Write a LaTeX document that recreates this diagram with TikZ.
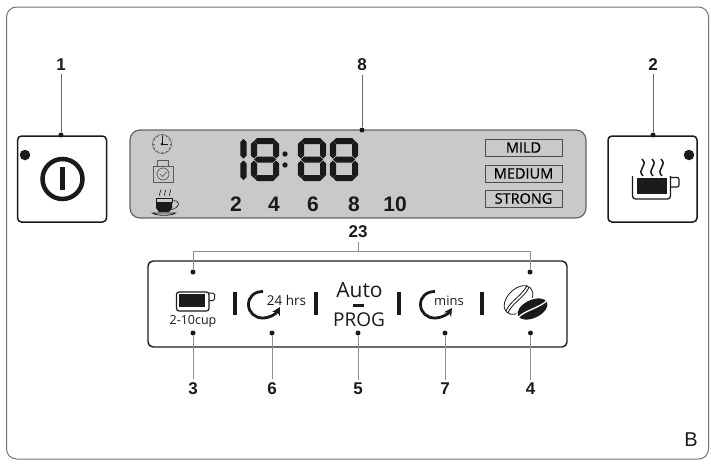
\documentclass[tikz,border=0pt]{standalone}
\usepackage{fontspec}
\setmainfont{Liberation Sans}
\newfontfamily\panelfont{Open Sans}
\newfontfamily\modefont[FakeBold=0.6]{Open Sans}
\usetikzlibrary{arrows.meta}
\definecolor{lcdgray}{HTML}{C9C9C9}
\definecolor{leadgray}{HTML}{8F8F8F}
\definecolor{inkblack}{HTML}{1A1A1A}
\tikzset{
  calllabel/.style={font=\bfseries\fontsize{17}{20}\selectfont, text=inkblack},
  tipdot/.style={circle, fill=inkblack, inner sep=0pt, minimum size=5pt},
  leadline/.style={leadgray, line width=1pt},
  buttonbox/.style={draw=inkblack, line width=1.5pt, rounded corners=4pt, fill=white, minimum width=89pt, minimum height=86pt},
  ledspot/.style={circle, fill=inkblack, inner sep=0pt, minimum size=10.5pt},
  modebox/.style={draw=black!70, line width=0.7pt, fill=lcdgray, minimum width=77pt, minimum height=17pt, inner sep=0pt, font=\modefont\fontsize{14.5}{16}\selectfont},
  cupnum/.style={font=\bfseries\fontsize{21}{24}\selectfont, text=inkblack},
  divbar/.style={fill=inkblack, minimum width=4pt, minimum height=23pt, inner sep=0pt},
  panelword/.style={font=\panelfont\fontsize{#1}{#1}\selectfont, text=inkblack, inner sep=0pt},
  timerarrow/.style={inkblack, line width=2.8pt, -{Stealth[length=8pt,width=8.5pt]}},
}
% one lcd digit
\newcommand{\hseg}[3]{\fill[inkblack] (#1,#3) -- (#1+3,#3-3) -- (#2-3,#3-3) -- (#2,#3) -- (#2-3,#3+3) -- (#1+3,#3+3) -- cycle;}
\newcommand{\vseg}[3]{\fill[inkblack] (#1,#2) -- (#1+3.1,#2+3) -- (#1+3.1,#3-3) -- (#1,#3) -- (#1-3.1,#3-3) -- (#1-3.1,#2+3) -- cycle;}
\newcommand{\eightdigit}[1]{%
  \hseg{#1+3}{#1+25}{141}
  \hseg{#1+3}{#1+25}{159.5}
  \hseg{#1+3}{#1+25}{178}
  \vseg{#1+2.9}{141}{158.5}
  \vseg{#1+2.9}{160.5}{178}
  \vseg{#1+25.1}{141}{158.5}
  \vseg{#1+25.1}{160.5}{178}
}
\begin{document}
\begin{tikzpicture}[x=1pt,y=-1pt]
    \useasboundingbox (0,0) rectangle (711,466);

    % Outer frame
    \draw[black!55, line width=1pt, rounded corners=10pt] (6.5,7) rectangle (708.5,459);
    \node[font=\fontsize{20}{22}\selectfont, text=inkblack] (sheetletter) at (691,440) {B};

    % Buttons at the sides
    \node[buttonbox] (powerbox) at (62,179) {};
    \node[buttonbox] (brewbox) at (652.5,179) {};
    \node[ledspot] (powerled) at (25,155) {};
    \node[ledspot] (brewled) at (689,155) {};

    % Power symbol
    \draw[inkblack, line width=4.5pt] (62.5,179) circle (20);
    \fill[inkblack] (60.2,167) rectangle (64.8,190);

    % Steaming cup on the right button
    \fill[inkblack] (637,178) rectangle (666.5,194);
    \draw[inkblack, line width=1.3pt, rounded corners=3pt] (632.5,176) -- (632.5,199) -- (670.5,199) -- (670.5,176);
    \draw[inkblack, line width=1.2pt, rounded corners=2pt] (670.5,177.5) -- (679,177.5) -- (679,187) -- (670.5,187);
    \foreach \steamx in {643,653,662}
        \draw[inkblack, line width=1.5pt] (\steamx,176) .. controls (\steamx-7,169) and (\steamx+6,166) .. (\steamx-1,159);

    % Lcd display
    \node[draw=black!60, line width=1.2pt, fill=lcdgray, rounded corners=10pt, minimum width=456pt, minimum height=88pt] (lcd) at (358,174) {};

    % Time digits
    \vseg{243.5}{139}{158.5}
    \vseg{243.5}{160.5}{180}
    \eightdigit{251}
    \eightdigit{298}
    \eightdigit{330}
    \fill[inkblack] (285,154) circle (2.7) (285,165) circle (2.7);

    % Clock icon
    \draw[black!65, line width=0.6pt] (162,144) circle (9.5);
    \foreach \tickang in {0,30,...,330}
        \draw[black!65, line width=0.5pt] (162,144) ++(\tickang:7.5) -- ++(\tickang:2);
    \draw[inkblack, line width=0.7pt] (162,144) -- (162,136) (162,144) -- (168,144);
    \fill[inkblack] (162,144) circle (1.5);

    % Timer icon
    \draw[black!65, line width=0.7pt] (153,166) rectangle (173,182);
    \draw[black!65, line width=0.7pt] (157,166) -- (157,160.5) -- (168,160.5) -- (168,166);
    \draw[black!65, line width=0.7pt] (163,174) circle (6);
    \draw[black!65, line width=0.7pt] (160,174) -- (162.5,176.5) -- (166.5,172);

    % Cup icon
    \fill[inkblack] (156,202) -- (172,202) -- (172,208) -- (169,212) -- (159,212) -- (156,208) -- cycle;
    \draw[inkblack, line width=0.6pt] (156,198) rectangle (172,202);
    \draw[inkblack, line width=0.6pt] (172,201) .. controls (181,199) and (181,208) .. (170,210);
    \draw[inkblack, line width=0.8pt] (152.5,213) .. controls (156,216) and (172,216) .. (175.5,213) -- cycle;
    \foreach \steamx in {160,165,170}
        \draw[inkblack, line width=0.5pt] (\steamx,196) .. controls (\steamx-2,193.5) and (\steamx+2,192) .. (\steamx,189.5);

    % Cup numbers
    \node[cupnum] (numa) at (236,204) {2};
    \node[cupnum] (numb) at (274,204) {4};
    \node[cupnum] (numc) at (313,204) {6};
    \node[cupnum] (numd) at (354,204) {8};
    \node[cupnum] (nume) at (395,204) {10};

    % Strength boxes
    \node[modebox] (mild) at (523.5,147.5) {MILD};
    \node[modebox] (medium) at (523.5,173.5) {MEDIUM};
    \node[modebox] (strong) at (523.5,198.5) {STRONG};

    % Control panel
    \node[draw=inkblack, line width=1.4pt, fill=white, rounded corners=5pt, minimum width=419pt, minimum height=86pt] (panel) at (357.5,304) {};
    \node[divbar] (diva) at (234.7,303.5) {};
    \node[divbar] (divb) at (316,303.5) {};
    \node[divbar] (divc) at (399,303.5) {};
    \node[divbar] (divd) at (481.5,303.5) {};

    % Cup selector
    \fill[inkblack] (179,294) rectangle (205,307);
    \draw[inkblack, line width=1.2pt, rounded corners=2.5pt] (176.5,292) -- (176.5,311) -- (209,311) -- (209,292) -- cycle;
    \draw[inkblack, line width=1pt, rounded corners=1.5pt] (209,293) -- (214.5,293) -- (214.5,300.5) -- (209,300.5);
    \node[panelword=12.5] (cuprange) at (193,321) {2-10cup};

    % Timer arrows
    \draw[timerarrow] (263,291.5) .. controls (254,291.5) and (248.5,297) .. (248.5,304.5) .. controls (248.5,312.5) and (255,318) .. (262.5,318) .. controls (270,318) and (276,314) .. (280,307);
    \node[panelword=13.5] (hours) at (286.5,300.5) {24 hrs};
    \draw[timerarrow] (435,291.5) .. controls (426,291.5) and (420.5,297) .. (420.5,304.5) .. controls (420.5,312.5) and (427,318) .. (434.5,318) .. controls (442,318) and (448,314) .. (452,308);
    \node[panelword=13] (minutes) at (449,301) {mins};

    % Auto and prog
    \node[panelword=21] (autoword) at (359.5,290.5) {Auto};
    \fill[inkblack] (352.5,304) rectangle (363.5,306.5);
    \node[panelword=19] (progword) at (359,319.5) {PROG};

    % Coffee beans
    \begin{scope}[shift={(518.5,300)}, rotate=45]
        \draw[inkblack, line width=0.8pt, fill=white] (0,0) ellipse [x radius=17, y radius=11];
        \draw[inkblack, line width=0.8pt] (-16.5,1.6) .. controls (-6,-2.5) and (6,2.5) .. (16.5,-1.6);
        \draw[inkblack, line width=0.8pt] (-16.5,-1.2) .. controls (-6,-5.3) and (6,-0.3) .. (16.5,-4.4);
    \end{scope}
    \begin{scope}[shift={(532.5,309)}, rotate=25]
        \fill[white] (0,0) ellipse [x radius=17.5, y radius=10.5];
        \fill[inkblack] (0,0) ellipse [x radius=16, y radius=9];
        \draw[white, line width=1.3pt] (-16.5,1.5) .. controls (-6,-2) and (6,2) .. (16.5,-1.5);
    \end{scope}

    % Numbered labels and dots
    \node[calllabel] (labelpower) at (61,65) {1};
    \node[calllabel] (labelbrew) at (653,65) {2};
    \node[calllabel] (labellcd) at (362,65) {8};
    \node[calllabel] (labelgroup) at (358,232) {23};
    \node[calllabel] (labelcups) at (193,389) {3};
    \node[calllabel] (labelhours) at (272,389) {6};
    \node[calllabel] (labelprog) at (358,389) {5};
    \node[calllabel] (labelmins) at (445,389) {7};
    \node[calllabel] (labelbean) at (530.5,389) {4};

    \node[tipdot] (tippower) at (61,135) {};
    \node[tipdot] (tipbrew) at (653,135) {};
    \node[tipdot] (tiplcd) at (362,130) {};
    \node[tipdot] (tipgroupa) at (193,272) {};
    \node[tipdot] (tipgroupb) at (530,272) {};
    \node[tipdot] (tipcups) at (193,333) {};
    \node[tipdot] (tiphours) at (272,333) {};
    \node[tipdot] (tipprog) at (358,333) {};
    \node[tipdot] (tipmins) at (445,333) {};
    \node[tipdot] (tipbean) at (530.5,333) {};

    \coordinate (brackettop) at (358,251);

    % Leader lines
    \draw[black!60, line width=0.7pt] (labelpower) -- (tippower);
    \draw[black!60, line width=0.7pt] (labelbrew) -- (tipbrew);
    \draw[black!60, line width=0.7pt] (labellcd) -- (tiplcd);
    \draw[leadline] (labelgroup) -- (brackettop);
    \draw[leadline] (tipgroupa) |- (brackettop);
    \draw[leadline] (tipgroupb) |- (brackettop);
    \draw[leadline] (labelcups) -- (tipcups);
    \draw[leadline] (labelhours) -- (tiphours);
    \draw[leadline] (labelprog) -- (tipprog);
    \draw[leadline] (labelmins) -- (tipmins);
    \draw[leadline] (labelbean) -- (tipbean);
\end{tikzpicture}
\end{document}
